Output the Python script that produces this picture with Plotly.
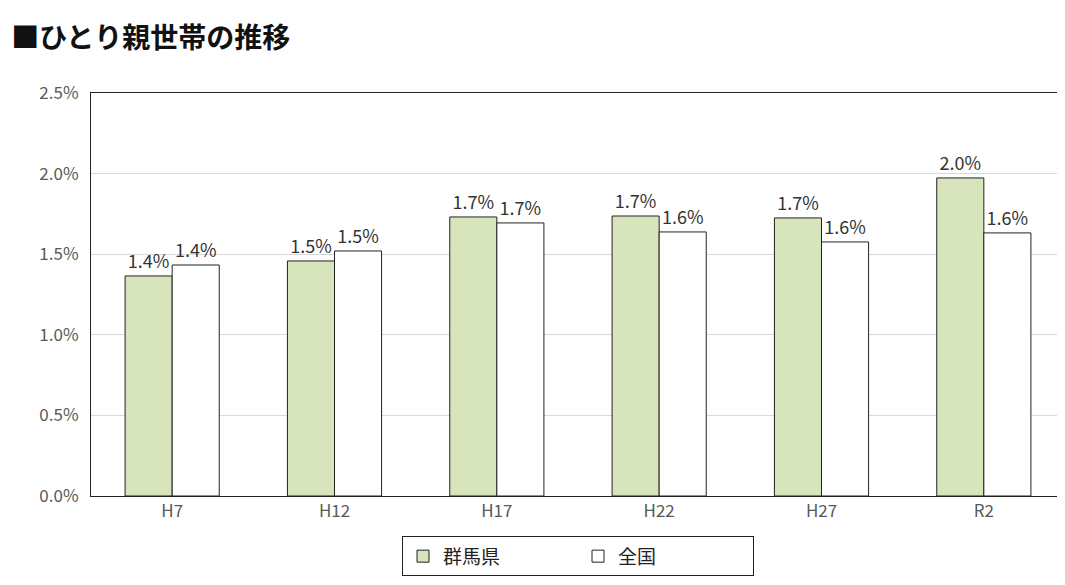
import plotly.graph_objects as go

categories = ["H7", "H12", "H17", "H22", "H27", "R2"]
gunma = [0.01365, 0.01458, 0.01731, 0.01737, 0.01725, 0.01973]
national = [0.01433, 0.01520, 0.01694, 0.01638, 0.01576, 0.01632]
series_names = ["群馬県", "全国"]

font = "Noto Sans CJK JP"
fig = go.Figure()
for vals, name, col in [(gunma, series_names[0], "#d8e4bc"), (national, series_names[1], "white")]:
    fig.add_bar(x=categories, y=vals, name=name,
                marker=dict(color=col, line=dict(color="#222", width=1)),
                texttemplate="%{y:.1%}", textposition="outside",
                textfont=dict(size=18, color="#333"), cliponaxis=False)

fig.update_layout(
    width=1065, height=585, paper_bgcolor="white", plot_bgcolor="white",
    font=dict(family=font, color="#595959", size=15),
    margin=dict(l=83, r=8, t=85, b=97, autoexpand=False),
    barmode="group", bargap=0.42, bargroupgap=0,
    title=dict(text="<b>■ひとり親世帯の推移</b>", x=0.003, xanchor="left",
               y=0.965, yanchor="top", font=dict(size=28, color="#111", family=font),
               automargin=False),
    legend=dict(orientation="h", x=0.5, xanchor="center", y=-0.1, yanchor="top",
                bordercolor="#222", borderwidth=1, font=dict(size=19, color="#222"),
                itemwidth=30, entrywidth=130),
    xaxis=dict(showline=True, linecolor="#222", mirror=True, ticks="",
               tickfont=dict(size=17), automargin=False),
    yaxis=dict(range=[0, 0.025], dtick=0.005, tickformat=".1%", showgrid=True,
               gridcolor="#d9d9d9", showline=True, linecolor="#222", mirror=True,
               tickfont=dict(size=17), zeroline=False, automargin=False,
               ticks="outside", ticklen=8, tickcolor="white"),
)
fig.write_html("out.html")
